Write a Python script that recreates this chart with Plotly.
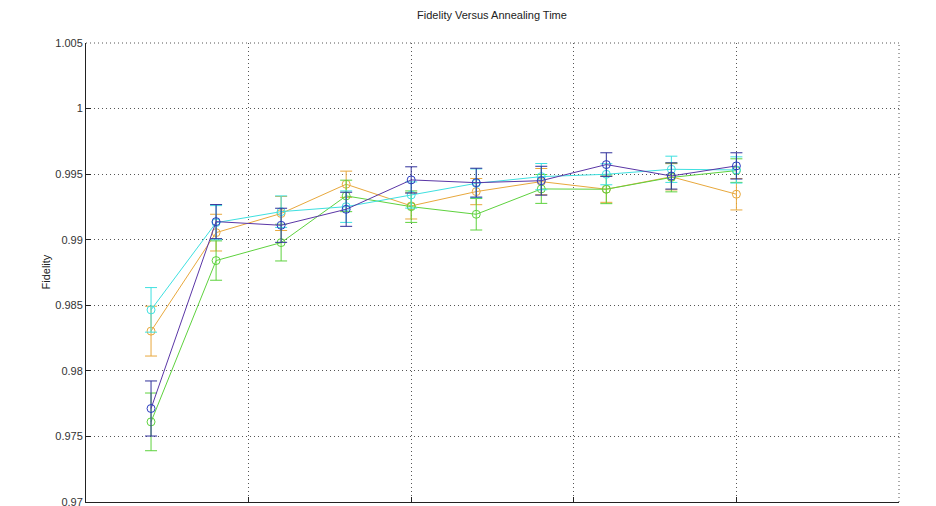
import plotly.graph_objects as go

annealing_time = [2, 4, 6, 8, 10, 12, 14, 16, 18, 20]

fid_orange = [0.98303, 0.99054, 0.99200, 0.99423, 0.99258, 0.99367, 0.99443, 0.99385, 0.99480, 0.99347]
err_orange = [0.0019, 0.0014, 0.0013, 0.0010, 0.0010, 0.0010, 0.0010, 0.0010, 0.0010, 0.0012]

fid_green = [0.97611, 0.98841, 0.98978, 0.99334, 0.99252, 0.99194, 0.99387, 0.99385, 0.99475, 0.99527]
err_green = [0.0022, 0.0015, 0.0014, 0.0012, 0.0012, 0.0012, 0.0011, 0.0011, 0.0011, 0.0009]

fid_cyan = [0.98465, 0.99130, 0.99214, 0.99252, 0.99341, 0.99430, 0.99481, 0.99499, 0.99537, 0.99532]
err_cyan = [0.0017, 0.0013, 0.0012, 0.0012, 0.0010, 0.0011, 0.0010, 0.0008, 0.0010, 0.0010]

fid_purple = [0.97713, 0.99138, 0.99110, 0.99232, 0.99456, 0.99435, 0.99450, 0.99573, 0.99486, 0.99563]
err_purple = [0.0021, 0.0013, 0.0013, 0.0013, 0.0010, 0.0011, 0.0011, 0.0009, 0.0010, 0.0010]

x_ticks = [0, 5, 10, 15, 20, 25]
y_ticks = [0.97, 0.975, 0.98, 0.985, 0.99, 0.995, 1.0, 1.005]
y_tick_text = ["0.97", "0.975", "0.98", "0.985", "0.99", "0.995", "1", "1.005"]

series = [
    (fid_orange, err_orange, "#e8a83c", "#e8a83c", "#e8a83c"),
    (fid_green, err_green, "#5ed23e", "#5ed23e", "#5ed23e"),
    (fid_cyan, err_cyan, "#3ee0e0", "#3ee0e0", "#3ee0e0"),
    (fid_purple, err_purple, "#5a36a6", "#2a3cc0", "#30309a"),
]

fig = go.Figure()
for y, e, lc, mc, ec in series:
    fig.add_trace(go.Scatter(
        x=annealing_time, y=y, mode="lines+markers",
        line=dict(color=lc, width=1),
        marker=dict(symbol="circle-open", size=8, color=mc, line=dict(width=1, color=mc)),
        error_y=dict(type="data", array=e, visible=True, color=ec, thickness=1, width=6),
        showlegend=False,
    ))

grid_dash = "1px,3px"
grid_col = "#555555"

# page body has an 8px margin, so the figure is sized/offset to compensate
W, H = 928, 498
fig.update_layout(
    width=W, height=H,
    margin=dict(l=78, r=37, t=35, b=4, autoexpand=False),
    paper_bgcolor="white", plot_bgcolor="white",
    font=dict(family="Liberation Sans, Arial, sans-serif", size=11, color="#333333"),
    title=dict(text="Fidelity Versus Annealing Time", x=(492 - 8) / W, xanchor="center",
               y=1 - 7 / H, yanchor="middle", yref="container", automargin=False,
               font=dict(size=11, color="#222222")),
    shapes=[
        dict(type="line", xref="paper", yref="paper", x0=0, x1=1, y0=1, y1=1,
             line=dict(color=grid_col, width=1, dash=grid_dash)),
        dict(type="line", xref="paper", yref="paper", x0=1, x1=1, y0=0, y1=1,
             line=dict(color=grid_col, width=1, dash=grid_dash)),
    ],
    annotations=[
        dict(text="Fidelity", xref="paper", yref="paper", x=-41 / 813, y=0.5,
             xanchor="center", yanchor="middle", textangle=-90, showarrow=False,
             font=dict(size=11, color="#222222")),
    ],
)
fig.update_xaxes(
    range=[0, 25], tickvals=x_ticks, showticklabels=False, automargin=False,
    showline=True, linecolor="#222222", linewidth=1,
    ticks="inside", ticklen=5, tickcolor="#222222",
    showgrid=True, gridcolor=grid_col, griddash=grid_dash, gridwidth=1, zeroline=False,
)
fig.update_yaxes(
    range=[0.97, 1.005], tickvals=y_ticks, ticktext=y_tick_text, automargin=False,
    ticklabeloverflow="allow",
    showline=True, linecolor="#222222", linewidth=1,
    ticks="inside", ticklen=5, tickcolor="#222222",
    showgrid=True, gridcolor=grid_col, griddash=grid_dash, gridwidth=1, zeroline=False,
)

fig.write_html("out.html")
